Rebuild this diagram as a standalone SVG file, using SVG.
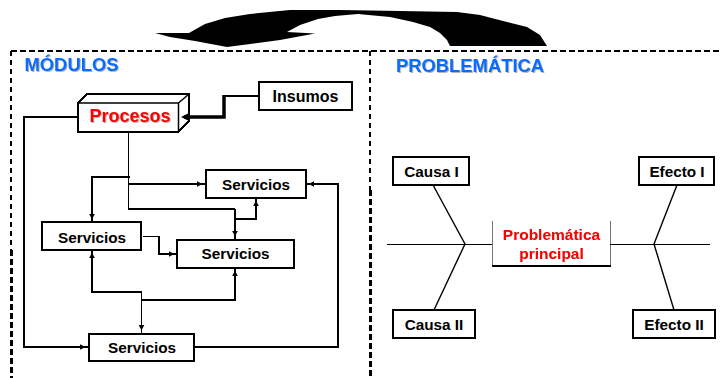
<svg xmlns="http://www.w3.org/2000/svg" width="722" height="378" viewBox="0 0 722 378">
<style>
text{font-family:"Liberation Sans",Arial,sans-serif;font-weight:bold;text-anchor:middle;fill:#000}
.lbl{font-size:15.3px}
.ins{font-size:16px}
.head{font-size:18.4px;fill:#0a6cff;filter:drop-shadow(1px 1.5px 0 #b4b4b4)}
.red{fill:#f00}
.proc{font-size:18px;filter:drop-shadow(1px 1.5px 0 #b4b4b4)}
.prob{font-size:15.5px;filter:drop-shadow(.7px .7px 0 #ccc)}
.box{fill:#fff;stroke:#000;stroke-width:2;shape-rendering:crispEdges}
.dash{fill:none;stroke:#000;stroke-width:2.500;stroke-dasharray:6 3;shape-rendering:crispEdges}
.dash-thin{fill:none;stroke:#000;stroke-width:2;stroke-dasharray:5 4;shape-rendering:crispEdges}
.c{fill:none;stroke:#000;stroke-width:1.600;shape-rendering:crispEdges}
.tail{marker-end:url(#a)}
.bone{fill:none;stroke:#000;stroke-width:1.400}
.spine{fill:none;stroke:#000;stroke-width:1;shape-rendering:crispEdges}
</style>
<defs>
<marker id="a" markerUnits="userSpaceOnUse" markerWidth="12" markerHeight="8" refX="9" refY="4" orient="auto"><path d="M1 1.200L6.500 4L1 6.800Z" fill="#000"/></marker>
<marker id="b" markerUnits="userSpaceOnUse" markerWidth="14" markerHeight="12" refX="6" refY="6" orient="auto"><path d="M0 1.500L9 6L0 10.500Z" fill="#000"/></marker>
</defs>
<path id="curved-arrow" fill="#000" d="M155 33L189 33L205 24L225 18L250 14L290 10L340 10L400 11L457 12L480 15L507 22L527 27L540 35L547 46L450 46L447 40L440 33L430 27L413 22L390 17L358 14L335 16L318 19L300 25L287 32L315 33.500L280 40L227 47L195 41L170 37Z"/>
<g id="frames">
<path class="dash" d="M11 51H722"/>
<path class="dash-thin" d="M11 51V250"/>
<path class="dash" d="M11.500 250V378"/>
<path class="dash-thin" d="M370 51V190"/>
<path class="dash" d="M370.500 190V378"/>
</g>
<g id="procesos">
<path class="box" d="M78 103L87 94H189V121L178.500 132H78Z"/>
<path fill="none" stroke="#000" stroke-width="1.500" d="M78 103H178.500V132M178.500 103L189 94"/>
<text class="proc red" x="130" y="122">Procesos</text>
</g>
<g id="insumos"><rect class="box" x="259" y="82" width="93" height="28"/><text class="ins" x="305.500" y="102">Insumos</text></g>
<g id="servicios-a"><rect class="box" x="206" y="170" width="100" height="28"/><text class="lbl" x="256" y="190">Servicios</text></g>
<g id="servicios-b"><rect class="box" x="42" y="222" width="99" height="28"/><text class="lbl" x="92" y="243">Servicios</text></g>
<g id="servicios-c"><rect class="box" x="177" y="240" width="117" height="28"/><text class="lbl" x="235.500" y="259">Servicios</text></g>
<g id="servicios-d"><rect class="box" x="89" y="334" width="105" height="27"/><text class="lbl" x="142" y="353">Servicios</text></g>
<g id="causa-1"><rect class="box" x="393" y="157" width="76" height="28"/><text class="lbl" x="431.500" y="177">Causa I</text></g>
<g id="causa-2"><rect class="box" x="393" y="310" width="82" height="28"/><text class="lbl" x="434" y="330">Causa II</text></g>
<g id="efecto-1"><rect class="box" x="639" y="157" width="75" height="28"/><text class="lbl" x="677" y="177">Efecto I</text></g>
<g id="efecto-2"><rect class="box" x="633" y="310" width="82" height="28"/><text class="lbl" x="674" y="330">Efecto II</text></g>
<g id="problematica">
<path fill="none" stroke="#777" stroke-width="1" d="M492.500 265V221M610.500 221V265" shape-rendering="crispEdges"/>
<path fill="none" stroke="#000" stroke-width="2" d="M492 265.500H611" shape-rendering="crispEdges"/>
<text class="prob red" x="551.500" y="240">Problemática</text>
<text class="prob red" x="551.500" y="259">principal</text>
</g>
<g id="connectors">
<path class="c tail" d="M78 117H24V347H88"/>
<path class="c" d="M128.500 132V209H235"/>
<path class="c tail" d="M235 209V239"/>
<path class="c tail" d="M128.500 184H205"/>
<path class="c tail" d="M130 177H92V222"/>
<path class="c tail" d="M235 219H256V198"/>
<path class="c tail" d="M143 236.500H159V254H177"/>
<path class="c tail" d="M141.500 292H92V250"/>
<path class="c tail" d="M141.500 292V333"/>
<path class="c tail" d="M141.500 300H235V268"/>
<path class="c tail" d="M194 347H338V184H306"/>
<path class="c" d="M259 96H224"/>
<path fill="none" stroke="#000" stroke-width="3.500" d="M224 95V117H184" marker-end="url(#b)"/>
<path class="spine" d="M387 244H492M610 244H710"/>
<path class="bone" d="M433 185L465 244L434 310"/>
<path class="bone" d="M677 185L654 244L674 310"/>
</g>
<text class="head" x="71.500" y="71">MÓDULOS</text>
<text class="head" x="470" y="72">PROBLEMÁTICA</text>
</svg>
